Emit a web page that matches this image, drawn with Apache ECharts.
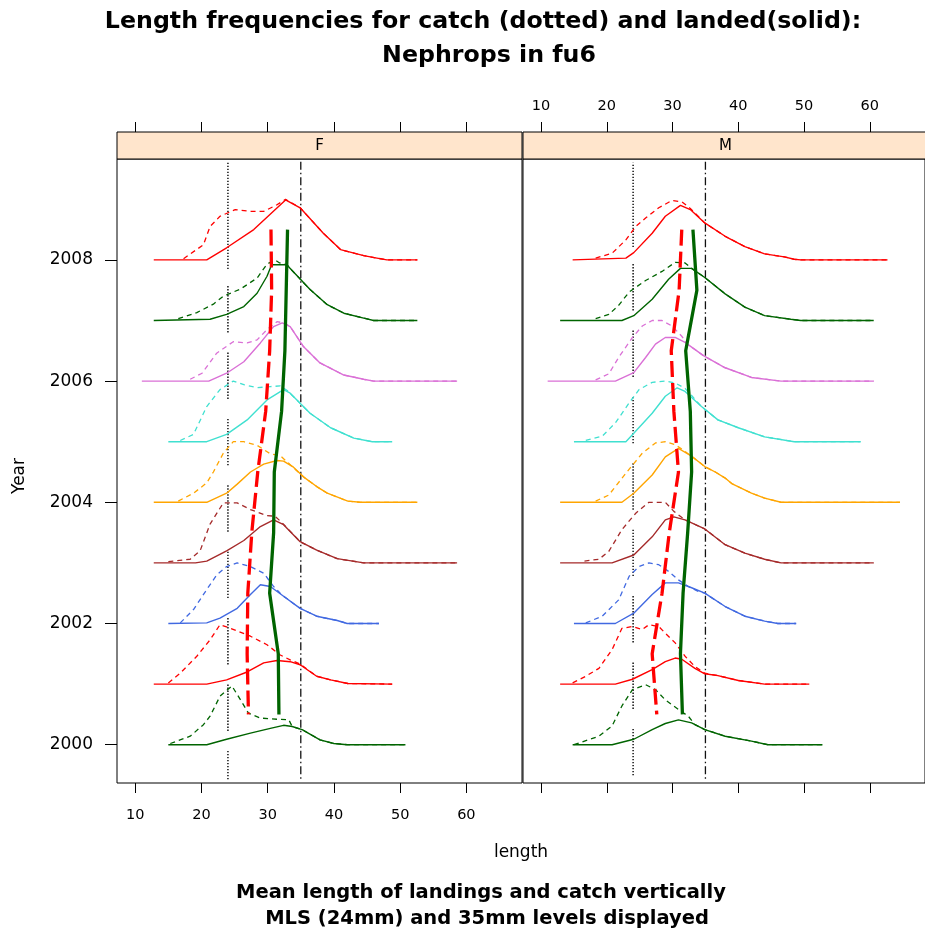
<!DOCTYPE html>
<html>
<head>
<meta charset="utf-8">
<script src="https://cdn.jsdelivr.net/npm/echarts@6/dist/echarts.min.js"></script>
<style>html,body{margin:0;padding:0;background:#fff;}#chart{width:925px;height:935px;}</style>
</head>
<body>
<div id="chart"></div>
<script>
// ---------------- DATA ----------------
const years = [2000, 2001, 2002, 2003, 2004, 2005, 2006, 2007, 2008];
const panels = ['F', 'M'];
const lengthTicks = [10, 20, 30, 40, 50, 60];
const yearTicks = [2000, 2002, 2004, 2006, 2008];
const mlsLength = 24;
const refLength = 35;

// Each curve: [length, relative height above its year baseline]
// ---- F: landed (solid) ----
const fLand2000 = [[15.0,0],[20.8,0],[23.8,0.09],[27.4,0.19],[30.4,0.27],[32.4,0.32],[33.7,0.30],[35.2,0.25],[37.9,0.08],[40.0,0.02],[42.0,0],[50.8,0]];
const fLand2001 = [[12.8,0],[20.8,0],[23.8,0.07],[26.9,0.20],[29.4,0.35],[31.4,0.39],[33.4,0.37],[34.9,0.32],[37.4,0.13],[39.5,0.07],[42.1,0.01],[48.8,0]];
const fLand2002 = [[15.0,0],[20.8,0.01],[22.8,0.09],[25.4,0.25],[27.4,0.48],[28.9,0.64],[30.4,0.61],[32.4,0.45],[34.9,0.25],[37.4,0.12],[40.5,0.05],[42.0,0],[46.8,0]];
const fLand2003 = [[12.8,0],[19.1,0],[20.8,0.03],[23.8,0.20],[26.4,0.37],[28.9,0.60],[30.9,0.71],[32.4,0.63],[34.9,0.35],[37.4,0.21],[40.5,0.07],[44.5,0],[58.6,0]];
const fLand2004 = [[12.8,0],[20.8,0],[23.8,0.15],[25.4,0.30],[27.4,0.50],[29.4,0.63],[31.4,0.69],[32.4,0.68],[33.9,0.58],[35.4,0.42],[37.4,0.26],[39.0,0.15],[42.1,0.02],[44.0,0],[52.6,0]];
const fLand2005 = [[15.0,0],[20.8,0],[23.8,0.12],[26.9,0.36],[29.9,0.69],[32.4,0.86],[33.4,0.80],[36.4,0.47],[39.5,0.23],[43.0,0.06],[45.8,0],[48.8,0]];
const fLand2006 = [[11.0,0],[21.1,0],[23.8,0.13],[26.4,0.32],[28.9,0.63],[30.9,0.90],[32.2,0.96],[33.4,0.90],[35.4,0.57],[37.9,0.30],[41.5,0.10],[44.5,0.03],[46.0,0],[58.6,0]];
const fLand2007 = [[12.8,0],[21.3,0.02],[23.8,0.10],[26.4,0.23],[28.4,0.45],[29.9,0.73],[30.6,0.92],[32.9,0.92],[33.3,0.87],[36.4,0.51],[39.0,0.26],[41.5,0.12],[44.5,0.04],[46.0,0],[52.6,0]];
const fLand2008 = [[12.8,0],[20.8,0],[23.8,0.20],[27.9,0.50],[32.7,0.99],[34.9,0.86],[38.4,0.44],[41.0,0.17],[44.5,0.07],[46.5,0.03],[48.0,0],[52.6,0]];
// ---- F: catch (dashed) ----
const fCatch2000 = [[15.3,0.02],[18.3,0.14],[20.3,0.33],[21.3,0.47],[22.8,0.80],[24.6,0.97],[25.9,0.74],[27.1,0.52],[28.9,0.44],[31.4,0.42],[33.2,0.41],[33.7,0.30],[35.2,0.25],[37.9,0.08],[40.0,0.02],[42.0,0],[50.8,0]];
const fCatch2001 = [[15.0,0.02],[16.8,0.18],[19.3,0.46],[21.3,0.73],[22.8,0.98],[24.4,0.92],[27.4,0.79],[29.9,0.65],[31.9,0.48],[33.4,0.40],[34.9,0.33],[37.4,0.13],[39.5,0.07],[42.1,0.01],[48.8,0]];
const fCatch2002 = [[16.8,0.01],[18.8,0.23],[20.8,0.56],[22.3,0.80],[23.8,0.94],[25.4,1.00],[27.4,0.94],[29.4,0.83],[30.9,0.61],[31.9,0.50],[32.4,0.45],[34.9,0.25],[37.4,0.12],[40.5,0.05],[42.0,0],[46.8,0]];
const fCatch2003 = [[15.0,0.02],[18.3,0.06],[19.8,0.20],[21.3,0.64],[23.3,0.99],[25.4,0.99],[27.4,0.88],[29.9,0.78],[31.1,0.77],[32.2,0.66],[34.9,0.35],[37.4,0.21],[40.5,0.07],[44.5,0],[58.6,0]];
const fCatch2004 = [[16.5,0.02],[18.8,0.15],[20.8,0.32],[21.8,0.50],[23.3,0.81],[24.8,1.00],[26.4,1.00],[28.4,0.94],[30.4,0.80],[31.9,0.77],[33.4,0.62],[35.4,0.42],[37.4,0.26],[39.0,0.15],[42.1,0.02],[44.0,0],[52.6,0]];
const fCatch2005 = [[16.8,0.02],[18.8,0.12],[20.8,0.58],[22.8,0.86],[24.8,1.00],[26.4,0.94],[28.4,0.89],[30.4,0.91],[31.9,0.92],[33.0,0.84],[36.4,0.47],[39.5,0.23],[43.0,0.06],[45.8,0],[48.8,0]];
const fCatch2006 = [[18.3,0.03],[20.1,0.13],[22.3,0.46],[24.8,0.65],[26.9,0.63],[28.4,0.68],[29.9,0.85],[31.4,0.98],[32.5,0.96],[33.4,0.90],[35.4,0.57],[37.9,0.30],[41.5,0.10],[44.5,0.03],[46.0,0],[58.6,0]];
const fCatch2007 = [[16.5,0.03],[19.3,0.13],[21.8,0.27],[23.3,0.40],[25.9,0.52],[28.4,0.70],[29.9,0.93],[31.1,1.00],[31.8,0.95],[32.9,0.92],[33.3,0.87],[36.4,0.51],[39.0,0.26],[41.5,0.12],[44.5,0.04],[46.0,0],[52.6,0]];
const fCatch2008 = [[17.3,0.02],[20.3,0.25],[21.3,0.55],[22.8,0.72],[25.1,0.83],[27.4,0.80],[29.4,0.80],[31.4,0.91],[32.7,1.00],[34.9,0.86],[38.4,0.44],[41.0,0.17],[44.5,0.07],[46.5,0.03],[48.0,0],[52.6,0]];
// ---- M: landed (solid) ----
const mLand2000 = [[14.8,0],[20.8,0],[24.1,0.09],[26.9,0.25],[28.9,0.35],[30.9,0.41],[32.9,0.36],[34.9,0.25],[38.0,0.14],[42.0,0.06],[44.5,0],[52.8,0]];
const mLand2001 = [[12.9,0],[21.3,0],[23.9,0.08],[26.9,0.24],[28.9,0.37],[30.4,0.43],[31.4,0.41],[33.4,0.26],[34.9,0.17],[36.9,0.14],[40.0,0.06],[44.0,0],[50.8,0]];
const mLand2002 = [[15.0,0],[21.3,0],[24.1,0.17],[26.9,0.48],[28.9,0.67],[30.9,0.67],[32.9,0.59],[34.9,0.50],[38.0,0.28],[41.0,0.12],[44.0,0.04],[46.0,0],[48.8,0]];
const mLand2003 = [[12.9,0],[20.8,0],[24.1,0.13],[26.9,0.43],[28.9,0.71],[30.2,0.76],[31.9,0.71],[34.9,0.56],[38.0,0.30],[41.0,0.16],[44.0,0.06],[46.5,0],[60.6,0]];
const mLand2004 = [[12.9,0],[22.3,0],[24.1,0.15],[26.9,0.45],[28.9,0.75],[30.9,0.89],[32.9,0.76],[34.9,0.59],[36.5,0.50],[38.0,0.40],[39.0,0.31],[42.0,0.15],[44.0,0.07],[46.5,0],[64.6,0]];
const mLand2005 = [[15.0,0],[22.9,0],[24.1,0.14],[26.9,0.47],[28.9,0.75],[30.7,0.89],[31.9,0.83],[34.4,0.58],[36.9,0.36],[40.0,0.23],[44.0,0.08],[48.5,0],[58.6,0]];
const mLand2006 = [[11.0,0],[21.3,0],[24.1,0.14],[25.9,0.39],[27.4,0.61],[28.9,0.72],[30.4,0.72],[31.9,0.64],[34.7,0.42],[38.0,0.22],[42.0,0.06],[46.5,0],[60.6,0]];
const mLand2007 = [[12.9,0],[22.3,0],[24.1,0.08],[26.9,0.35],[29.4,0.68],[31.2,0.86],[32.9,0.86],[34.9,0.71],[38.0,0.44],[41.0,0.22],[44.0,0.08],[48.0,0.02],[49.5,0],[60.6,0]];
const mLand2008 = [[14.8,0],[22.9,0.03],[24.1,0.12],[26.9,0.44],[28.9,0.72],[31.2,0.90],[32.7,0.83],[34.9,0.61],[38.0,0.39],[41.0,0.22],[44.0,0.10],[47.0,0.05],[48.5,0.01],[49.5,0],[62.7,0]];
// ---- M: catch (dashed) ----
const mCatch2000 = [[15.0,0],[18.8,0.14],[20.8,0.31],[22.3,0.64],[23.9,0.91],[25.9,0.99],[27.4,0.91],[28.9,0.74],[30.9,0.58],[32.4,0.47],[33.4,0.33],[34.9,0.25],[38.0,0.14],[42.0,0.06],[44.5,0],[52.8,0]];
const mCatch2001 = [[14.8,0.02],[16.8,0.13],[18.8,0.26],[20.8,0.57],[22.3,0.92],[23.9,0.95],[25.4,0.90],[26.4,0.98],[27.9,0.95],[28.9,0.84],[30.4,0.68],[31.9,0.46],[33.4,0.29],[34.9,0.18],[36.9,0.14],[40.0,0.06],[44.0,0],[50.8,0]];
const mCatch2002 = [[16.8,0.01],[19.3,0.12],[21.8,0.39],[23.4,0.78],[24.9,0.94],[26.4,1.00],[27.9,0.97],[29.4,0.86],[30.9,0.72],[32.4,0.61],[33.9,0.53],[34.9,0.50],[38.0,0.28],[41.0,0.12],[44.0,0.04],[46.0,0],[48.8,0]];
const mCatch2003 = [[16.6,0.03],[18.8,0.06],[20.3,0.19],[22.3,0.55],[24.4,0.82],[26.4,1.00],[28.9,1.00],[30.2,0.85],[31.9,0.71],[34.9,0.56],[38.0,0.30],[41.0,0.16],[44.0,0.06],[46.5,0],[60.6,0]];
const mCatch2004 = [[18.3,0.02],[20.3,0.12],[22.9,0.48],[25.4,0.81],[27.4,0.98],[28.9,1.00],[30.4,0.95],[31.4,0.88],[32.9,0.76],[34.9,0.59],[36.5,0.50],[38.0,0.40],[39.0,0.31],[42.0,0.15],[44.0,0.07],[46.5,0],[64.6,0]];
const mCatch2005 = [[16.8,0.02],[19.3,0.09],[21.3,0.31],[23.4,0.64],[24.9,0.86],[26.9,0.98],[28.9,1.00],[30.4,0.97],[31.9,0.88],[33.0,0.75],[34.4,0.58],[36.9,0.36],[40.0,0.23],[44.0,0.08],[48.5,0],[58.6,0]];
const mCatch2006 = [[18.3,0.02],[20.3,0.12],[21.8,0.39],[23.9,0.72],[25.4,0.91],[26.9,1.00],[28.4,1.00],[29.9,0.91],[31.4,0.74],[32.4,0.60],[34.7,0.42],[38.0,0.22],[42.0,0.06],[46.5,0],[60.6,0]];
const mCatch2007 = [[18.3,0.03],[20.3,0.10],[21.8,0.25],[23.4,0.47],[25.9,0.66],[28.4,0.81],[30.4,0.96],[31.9,0.95],[32.9,0.86],[34.9,0.71],[38.0,0.44],[41.0,0.22],[44.0,0.08],[48.0,0.02],[49.5,0],[60.6,0]];
const mCatch2008 = [[18.3,0.03],[20.8,0.11],[22.9,0.33],[24.4,0.55],[25.9,0.69],[27.9,0.86],[29.9,0.98],[31.4,0.96],[32.7,0.85],[34.9,0.61],[38.0,0.39],[41.0,0.22],[44.0,0.10],[47.0,0.05],[48.5,0.01],[49.5,0],[62.7,0]];

// Mean lengths (plotted at year + 0.5)
const fMeanLand  = [31.7, 31.6, 30.3, 30.9, 31.0, 32.1, 32.6, 32.8, 33.0];
const fMeanCatch = [27.1, 26.9, 27.0, 27.6, 28.5, 29.7, 30.3, 30.6, 30.5];
const mMeanLand  = [31.5, 31.2, 31.6, 32.3, 32.9, 32.7, 32.0, 33.7, 33.1];
const mMeanCatch = [27.6, 26.9, 28.4, 29.5, 30.9, 30.2, 29.8, 31.0, 31.4];

const fLand  = [fLand2000, fLand2001, fLand2002, fLand2003, fLand2004, fLand2005, fLand2006, fLand2007, fLand2008];
const fCatch = [fCatch2000, fCatch2001, fCatch2002, fCatch2003, fCatch2004, fCatch2005, fCatch2006, fCatch2007, fCatch2008];
const mLand  = [mLand2000, mLand2001, mLand2002, mLand2003, mLand2004, mLand2005, mLand2006, mLand2007, mLand2008];
const mCatch = [mCatch2000, mCatch2001, mCatch2002, mCatch2003, mCatch2004, mCatch2005, mCatch2006, mCatch2007, mCatch2008];

// ---------------- STYLE ----------------
const yearColors = ['#006400', '#FF0000', '#4169E1', '#A52A2A', '#FFA500', '#40E0D0', '#DA70D6'];
const XMIN = 7.25, XMAX = 68.4;
const YMIN = 1999.368, YMAX = 2009.665;
const FONT = '"DejaVu Sans", "Liberation Sans", sans-serif';

function dottedPattern() {
  const pat = [];
  const seg = (on, off) => {
    const n = Math.round(on / 3);
    for (let i = 0; i < n; i++) pat.push(1.4, i === n - 1 ? off : 1.6);
  };
  seg(107, 17);
  for (let k = 0; k < 9; k++) seg(47, 20);
  return pat;
}
const DOT_PAT = dottedPattern();

const series = [];
function addPanel(gi, land, catchArr, meanLand, meanCatch, dashOffset) {
  series.push({
    type: 'line', xAxisIndex: gi * 2, yAxisIndex: gi, silent: true, showSymbol: false, z: 1,
    data: [[mlsLength, 2009.604], [mlsLength, 1999.42]],
    lineStyle: { color: '#111', width: 1.5, type: DOT_PAT, dashOffset: dashOffset }
  });
  series.push({
    type: 'line', xAxisIndex: gi * 2, yAxisIndex: gi, silent: true, showSymbol: false, z: 1,
    data: [[refLength, 2009.62], [refLength, 1999.42]],
    lineStyle: { color: '#111', width: 1.3, type: [8, 3, 1.5, 3] }
  });
  years.forEach((yr, i) => {
    const col = yearColors[i % yearColors.length];
    series.push({
      type: 'line', xAxisIndex: gi * 2, yAxisIndex: gi, silent: true, showSymbol: false, z: 2,
      data: catchArr[i].map(p => [p[0], yr + p[1]]),
      lineStyle: { color: col, width: 1.3, type: [5, 4] }
    });
    series.push({
      type: 'line', xAxisIndex: gi * 2, yAxisIndex: gi, silent: true, showSymbol: false, z: 3,
      data: land[i].map(p => [p[0], yr + p[1]]),
      lineStyle: { color: col, width: 1.4 }
    });
  });
  series.push({
    type: 'line', xAxisIndex: gi * 2, yAxisIndex: gi, silent: true, showSymbol: false, z: 5,
    data: years.map((yr, i) => [meanCatch[i], yr + 0.5]).reverse(),
    lineStyle: { color: '#FF0000', width: 3.3, type: [16, 6] }
  });
  series.push({
    type: 'line', xAxisIndex: gi * 2, yAxisIndex: gi, silent: true, showSymbol: false, z: 5,
    data: years.map((yr, i) => [meanLand[i], yr + 0.5]),
    lineStyle: { color: '#006400', width: 3.3 }
  });
}
addPanel(0, fLand, fCatch, fMeanLand, fMeanCatch, 0);
addPanel(1, mLand, mCatch, mMeanLand, mMeanCatch, 22);

function xAxisDef(gi, pos, showLabels) {
  return {
    type: 'value', gridIndex: gi, min: XMIN, max: XMAX, position: pos,
    offset: pos === 'top' ? 27 : 0,
    axisLine: { show: false },
    splitLine: { show: false },
    axisTick: { show: true, customValues: lengthTicks, length: 10, inside: false, lineStyle: { color: '#000', width: 1 } },
    axisLabel: { show: showLabels, customValues: lengthTicks, color: '#000', fontSize: 14.5, fontFamily: FONT, margin: pos === 'top' ? 18 : 25 }
  };
}

const graphics = [
  { type: 'rect', shape: { x: 117, y: 132, width: 405, height: 27 }, style: { fill: '#FFE5CC', stroke: '#000', lineWidth: 1 }, z: 10 },
  { type: 'rect', shape: { x: 523, y: 132, width: 405, height: 27 }, style: { fill: '#FFE5CC', stroke: '#000', lineWidth: 1 }, z: 10 },
  { type: 'text', x: 319.5, y: 146, z: 11, style: { text: panels[0], font: '15px ' + FONT, fill: '#000', textAlign: 'center', textVerticalAlign: 'middle' } },
  { type: 'text', x: 725.5, y: 146, z: 11, style: { text: panels[1], font: '15px ' + FONT, fill: '#000', textAlign: 'center', textVerticalAlign: 'middle' } },
  { type: 'text', x: 483, y: 22, style: { text: 'Length frequencies for catch (dotted) and landed(solid):', font: 'bold 23.7px ' + FONT, fill: '#000', textAlign: 'center', textVerticalAlign: 'middle' } },
  { type: 'text', x: 489, y: 56, style: { text: 'Nephrops in fu6', font: 'bold 23.7px ' + FONT, fill: '#000', textAlign: 'center', textVerticalAlign: 'middle' } },
  { type: 'text', x: 521, y: 853, style: { text: 'length', font: '17px ' + FONT, fill: '#000', textAlign: 'center', textVerticalAlign: 'middle' } },
  { type: 'text', x: 20, y: 476, rotation: Math.PI / 2, style: { text: 'Year', font: '17px ' + FONT, fill: '#000', textAlign: 'center', textVerticalAlign: 'middle' } },
  { type: 'text', x: 481, y: 893, style: { text: 'Mean length of landings and catch vertically', font: 'bold 19.5px ' + FONT, fill: '#000', textAlign: 'center', textVerticalAlign: 'middle' } },
  { type: 'text', x: 487, y: 919, style: { text: 'MLS (24mm) and 35mm levels displayed', font: 'bold 19.5px ' + FONT, fill: '#000', textAlign: 'center', textVerticalAlign: 'middle' } }
];

const option = {
  animation: false,
  backgroundColor: '#fff',
  grid: [
    { left: 117, top: 159, width: 405, height: 624, show: true, borderColor: '#000', borderWidth: 1, backgroundColor: 'transparent' },
    { left: 523, top: 159, width: 405, height: 624, show: true, borderColor: '#000', borderWidth: 1, backgroundColor: 'transparent' }
  ],
  xAxis: [
    xAxisDef(0, 'bottom', true),
    xAxisDef(0, 'top', false),
    xAxisDef(1, 'bottom', false),
    xAxisDef(1, 'top', true)
  ],
  yAxis: [
    {
      type: 'value', gridIndex: 0, min: YMIN, max: YMAX, position: 'left',
      axisLine: { show: false }, splitLine: { show: false },
      axisTick: { show: true, customValues: yearTicks, length: 12, lineStyle: { color: '#000' } },
      axisLabel: { show: true, customValues: yearTicks, color: '#000', fontSize: 17, fontFamily: FONT, margin: 24, formatter: v => String(Math.round(v)) }
    },
    {
      type: 'value', gridIndex: 1, min: YMIN, max: YMAX, position: 'left',
      axisLine: { show: false }, splitLine: { show: false },
      axisTick: { show: false }, axisLabel: { show: false }
    }
  ],
  graphic: graphics,
  series: series
};

const chart = echarts.init(document.getElementById('chart'), null, { renderer: 'canvas' });
chart.setOption(option);
</script>
</body>
</html>
